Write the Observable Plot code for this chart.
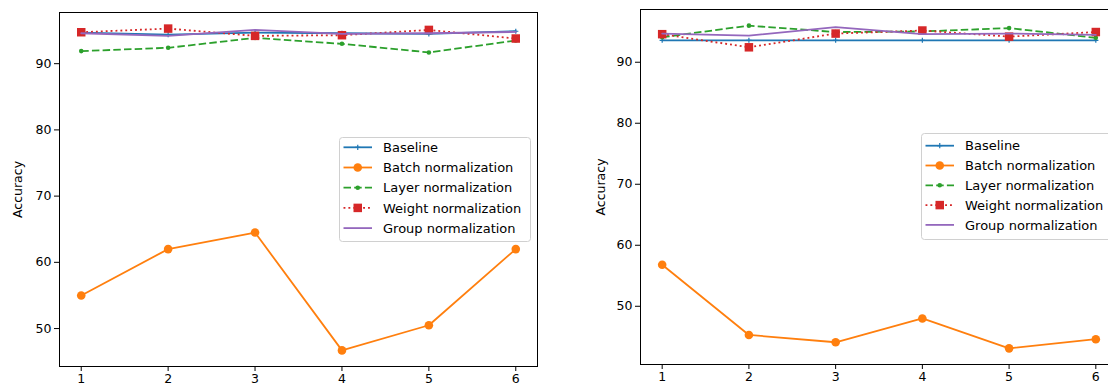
<!DOCTYPE html>
<html>
<head>
<meta charset="utf-8">
<script src="https://cdn.jsdelivr.net/npm/d3@7"></script>
<script src="https://cdn.jsdelivr.net/npm/@observablehq/plot@0.6"></script>
<style>
  html, body { margin: 0; padding: 0; background: #fff; overflow: hidden; }
  #wrap { position: relative; width: 1108px; height: 387px; overflow: hidden; font-family: "DejaVu Sans", sans-serif; }
  #wrap > svg, #wrap > figure { position: absolute; margin: 0; }
</style>
</head>
<body>
<div id="wrap"></div>
<script>
// ---- data ----
const steps = [1, 2, 3, 4, 5, 6];
const seriesNames = ["Baseline", "Batch normalization", "Layer normalization", "Weight normalization", "Group normalization"];
const yTicks = [50, 60, 70, 80, 90];
const yLabel = "Accuracy";

// left panel
const leftBaseline = [94.7, 94.4, 94.7, 94.6, 94.5, 94.9];
const leftBatch    = [55.0, 62.0, 64.5, 46.7, 50.5, 62.0];
const leftLayer    = [91.9, 92.4, 93.9, 93.0, 91.7, 93.5];
const leftWeight   = [94.75, 95.3, 94.2, 94.3, 95.1, 93.8];
const leftGroup    = [94.6, 94.2, 95.1, 94.5, 94.6, 94.8];

// right panel
const rightBaseline = [93.6, 93.6, 93.6, 93.6, 93.6, 93.6];
const rightBatch    = [56.8, 45.3, 44.1, 48.0, 43.1, 44.6];
const rightLayer    = [94.1, 96.0, 94.95, 95.05, 95.6, 94.0];
const rightWeight   = [94.6, 92.45, 94.7, 95.2, 94.2, 94.95];
const rightGroup    = [94.7, 94.35, 95.75, 94.6, 94.7, 94.5];

// ---- styles ----
const styles = [
  {color: "#1f77b4", dash: null,      symbol: "plus",   r: 1.8, fill: "none",    stroke: "#1f77b4", sw: 1.2},
  {color: "#ff7f0e", dash: null,      symbol: "circle", r: 4.3, fill: "#ff7f0e", stroke: "none",    sw: 0},
  {color: "#2ca02c", dash: "7.5,3.2", symbol: "circle", r: 2.3, fill: "#2ca02c", stroke: "none",    sw: 0},
  {color: "#d62728", dash: "1.9,3.0", symbol: "square", r: 4.8, fill: "#d62728", stroke: "none",    sw: 0},
  {color: "#9467bd", dash: null,      symbol: null,     r: 0,   fill: "none",    stroke: "none",    sw: 0}
];
const LW = 1.8;

function table(arrays) {
  const rows = [];
  arrays.forEach((vals, i) => vals.forEach((v, j) => rows.push({series: seriesNames[i], idx: i, step: steps[j], acc: v})));
  return rows;
}

function yDomain(rows) {
  const [lo, hi] = d3.extent(rows, d => d.acc);
  const m = (hi - lo) * 0.05;
  return [lo - m, hi + m];
}

function panel(rows, opt) {
  const marks = [
    Plot.frame({stroke: "black", strokeWidth: 1}),
    Plot.axisX({ticks: steps, tickFormat: d => String(d), tickSize: 5, tickPadding: 3, fontSize: 12.5, label: null}),
    Plot.axisY({ticks: yTicks, tickSize: 5, tickPadding: 3, fontSize: 12.5, label: yLabel, labelAnchor: "center", labelArrow: "none", labelOffset: opt.labelOffset})
  ];
  seriesNames.forEach((name, i) => {
    const st = styles[i];
    const d = rows.filter(r => r.idx === i);
    marks.push(Plot.line(d, {x: "step", y: "acc", stroke: st.color, strokeWidth: LW, strokeDasharray: st.dash, strokeLinejoin: "round", strokeLinecap: st.dash ? "butt" : "round"}));
    if (st.symbol) {
      marks.push(Plot.dot(d, {x: "step", y: "acc", symbol: st.symbol, r: st.r, fill: st.fill, stroke: st.stroke, strokeWidth: st.sw}));
    }
  });
  const svg = Plot.plot({
    width: opt.width, height: opt.height,
    marginLeft: opt.ml, marginRight: opt.mr, marginTop: opt.mt, marginBottom: opt.mb,
    style: {fontFamily: "DejaVu Sans, sans-serif", color: "black", background: "transparent", overflow: "visible"},
    x: {domain: [0.75, 6.25]},
    y: {domain: yDomain(rows)},
    marks
  });
  svg.style.left = opt.left + "px";
  svg.style.top = "0px";
  return svg;
}

function legend(box) {
  const svg = d3.create("svg").attr("width", 1108).attr("height", 387)
    .style("left", "0px").style("top", "0px").style("position", "absolute").style("overflow", "visible");
  svg.append("rect").attr("x", box.x + 0.5).attr("y", box.y + 0.5).attr("width", box.w).attr("height", box.h)
    .attr("rx", 3).attr("fill", "white").attr("fill-opacity", 0.8).attr("stroke", "#d0d0d0").attr("stroke-width", 1);
  const x0 = box.x + 4.5, x1 = box.x + 33, xm = (x0 + x1) / 2;
  seriesNames.forEach((name, i) => {
    const st = styles[i];
    const y = box.row0 + i * box.dy;
    svg.append("line").attr("x1", x0).attr("x2", x1).attr("y1", y).attr("y2", y)
      .attr("stroke", st.color).attr("stroke-width", LW).attr("stroke-dasharray", st.dash);
    if (st.symbol) {
      const size = Math.PI * st.r * st.r;
      const sym = st.symbol === "plus" ? d3.symbolPlus : st.symbol === "square" ? d3.symbolSquare : d3.symbolCircle;
      svg.append("path").attr("transform", `translate(${xm},${y})`).attr("d", d3.symbol(sym, size)())
        .attr("fill", st.fill).attr("stroke", st.stroke).attr("stroke-width", st.sw);
    }
    svg.append("text").attr("x", box.x + 44).attr("y", y).attr("dy", "0.36em")
      .attr("font-family", "DejaVu Sans, sans-serif").attr("font-size", 13).attr("fill", "black").text(name);
  });
  return svg.node();
}

const wrap = document.getElementById("wrap");
const leftRows = table([leftBaseline, leftBatch, leftLayer, leftWeight, leftGroup]);
const rightRows = table([rightBaseline, rightBatch, rightLayer, rightWeight, rightGroup]);

wrap.appendChild(panel(leftRows, {left: 0, width: 545, height: 387, ml: 59, mr: 8, mt: 12, mb: 21, labelOffset: 46}));
wrap.appendChild(panel(rightRows, {left: 560, width: 565, height: 387, ml: 80, mr: 8, mt: 9, mb: 23, labelOffset: 44}));
wrap.appendChild(legend({x: 339, y: 137, w: 191, h: 104, row0: 147.3, dy: 20.2}));
wrap.appendChild(legend({x: 921, y: 133, w: 190, h: 106, row0: 145.7, dy: 19.8}));
</script>
</body>
</html>
